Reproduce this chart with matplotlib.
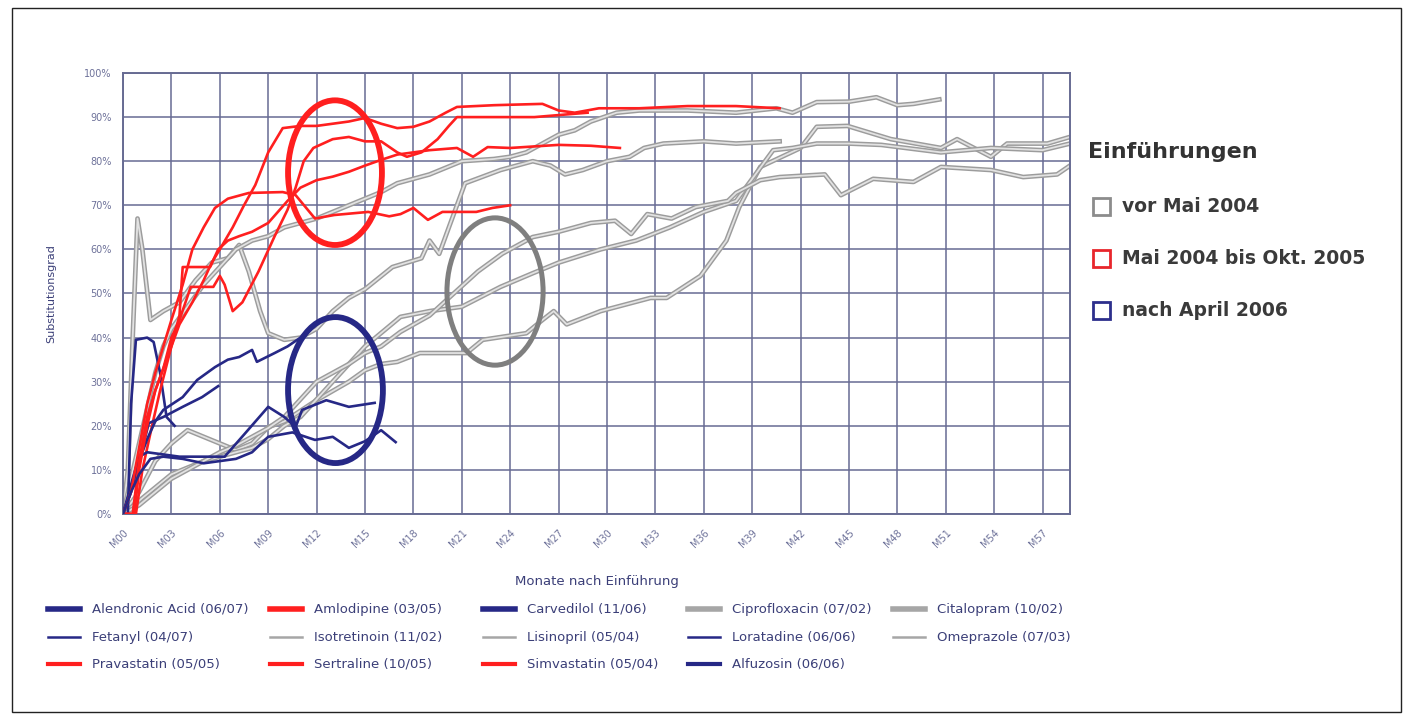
import matplotlib
matplotlib.use('Agg')
import matplotlib.pyplot as plt
import matplotlib.patheffects as pe
from matplotlib.patches import Ellipse, Rectangle
from matplotlib.lines import Line2D

plt.rcParams['font.family'] = ['DejaVu Sans']

# months after launch (x) and substitution share in percent (y)
alendronic_x = [0, 0.3, 0.5, 0.8, 1.5, 1.9, 2.3, 2.7, 3.2]
alendronic_y = [0, 0, 25, 39.5, 40, 39, 32, 22, 20]

amlodipine_x = [0, 0.8, 1.2, 1.8, 2.3, 3, 3.5, 3.7, 5.4, 5.9, 6.5, 7.2, 8, 9, 10.2, 11, 12, 13, 14, 15,
                16, 17, 18, 19, 20.7, 21.7, 22.6, 24, 27, 29, 30.8]
amlodipine_y = [0, 0, 10, 20, 28, 38, 45, 56, 56, 60, 62, 63, 64, 66, 71, 74, 75.7, 76.5, 77.6, 79,
                80.3, 81.5, 82, 82.5, 83, 81, 83.2, 83, 83.7, 83.5, 83]

carvedilol_x = [0, 0.5, 1, 1.5, 2, 2.5, 3.7, 4.6, 5.7, 6.5, 7.2, 8, 8.3, 9.4, 10.2, 11]
carvedilol_y = [0, 5, 12, 17, 21, 23.6, 26.5, 30.4, 33.3, 35, 35.6, 37.2, 34.5, 36.5, 38, 40]

cipro_x = [0, 1, 2, 3, 4, 5, 6, 7, 8, 9, 10, 12, 14, 15, 16, 17, 18.4, 21.3, 22.3, 25, 26, 26.7, 27.5,
           29.6, 32.7, 33.7, 35.8, 37.4, 38.2, 39.5, 42, 43, 44.9, 47.6, 50.7, 51.7, 53.8, 54.8, 57.3, 58.7]
cipro_y = [0, 5, 12, 16, 19, 17.5, 16, 14.5, 16, 19.7, 21, 25.8, 30, 32.6, 34, 34.5, 36.5, 36.5, 39.5, 41,
           44, 46, 43, 46, 49, 49, 54, 62, 69.6, 78.7, 83, 87.8, 88, 85, 83, 85, 81, 84, 84, 85.5]

citalopram_x = [0, 1, 2, 3, 4, 5, 6, 7, 8, 9, 10, 11, 12, 13, 14, 15, 17.2, 19, 21, 23.4, 25.4, 27,
                29.6, 31.8, 33.9, 36, 38, 39, 40.3, 41.5, 43, 45, 47, 50.7, 53.8, 57, 58.7]
citalopram_y = [0, 3, 6, 9, 10.5, 12, 13, 14, 15, 17, 20, 22, 26, 30, 34, 38, 44.7, 46, 47, 51.5, 54.6, 57,
                60, 62, 65, 68.5, 71, 76, 82.5, 83, 84, 84, 83.7, 82, 83, 82.5, 84]

fetanyl_x = [0, 0.5, 1, 1.6, 2.5, 3.7, 4.9, 5.9]
fetanyl_y = [0, 6, 12, 20.6, 22, 24.3, 26.5, 29]

isotretinoin_x = [0, 1, 2, 3, 4, 5, 6, 7, 8, 9, 10, 11, 12, 13, 14, 15, 16, 17.2, 19, 20.5, 22, 23.5,
                  25.4, 27, 29, 30.5, 31.5, 32.5, 34, 35.5, 37.5, 38, 39.5, 40.7, 43.5, 44.5, 46.5, 49,
                  50.7, 53.8, 55.8, 57.9, 58.7]
isotretinoin_y = [0, 2, 5, 8, 10, 12, 14, 15.5, 17.5, 19.5, 22, 26, 30, 32, 34, 36.5, 38, 41.3, 45, 50,
                  55, 59, 62.8, 64, 66, 66.5, 63.5, 68, 67, 69.6, 71, 72.8, 75.7, 76.4, 77, 72.3, 76,
                  75.3, 78.7, 78, 76.4, 77, 79]

lisinopril_x = [0, 0.3, 0.6, 0.9, 1.2, 1.7, 2.5, 3.5, 4.5, 5.5, 6.5, 7.2, 7.8, 8.5, 9, 10, 11, 12, 13,
                14, 15, 16.7, 18.5, 19, 19.6, 20.4, 21.2, 23.4, 25.4, 26.5, 27.4, 28.5, 30, 31.4, 32.3,
                33.5, 36, 38, 40.7]
lisinopril_y = [0, 10, 40, 67, 60, 44, 46, 48, 53, 57, 58, 61, 55, 46, 41, 39.5, 40, 42, 46, 49, 51,
                56, 58, 62, 59, 67, 75, 78, 80, 79, 77, 78, 80, 81, 83, 84, 84.5, 84, 84.5]

loratadine_x = [0, 0.6, 1, 1.5, 2.5, 3.5, 5, 6.3, 7.5, 9, 10, 10.7, 11.1, 12.6, 14, 15.6]
loratadine_y = [0, 8, 13, 14, 13.5, 13, 13, 13, 18, 24.3, 22, 19.7, 23.6, 25.8, 24.3, 25.2]

omeprazole_x = [0, 0.5, 1, 1.5, 2, 2.5, 3, 4, 5, 6, 7, 8, 9, 10, 12, 14, 16, 17, 19, 21, 23, 24, 25, 26,
                27, 28, 29, 30.6, 32, 35, 38, 40.5, 41.5, 43, 45, 46.7, 48, 49, 50.6]
omeprazole_y = [0, 8, 16, 24, 32, 38, 42, 47, 52, 56, 60, 62, 63, 65, 67, 70, 73, 75, 77, 80, 80.5, 81,
                82, 84, 86, 87, 89, 91, 91.5, 91.5, 91, 92, 91, 93.4, 93.5, 94.5, 92.7, 93, 94]

pravastatin_x = [0, 0.7, 1, 1.5, 2, 2.5, 3, 3.5, 4.2, 5.6, 6, 6.3, 6.8, 7.4, 8.4, 9.4, 10.2, 10.7, 11.2,
                 11.8, 13, 14, 15, 16, 17, 17.6, 18.5, 19.5, 20.2, 20.7, 23, 25.5, 28.8]
pravastatin_y = [0, 0, 10, 20, 28, 33, 40, 44, 51.5, 51.5, 54, 52, 46, 48, 55, 63, 69, 74, 80,
                 83, 85, 85.5, 84.5, 84.5, 82, 81, 82, 85, 88, 90, 90, 90, 91]

sertraline_x = [0, 0.5, 1, 1.5, 2, 2.5, 3, 3.7, 4.3, 5, 5.7, 6.5, 7.8, 9.9, 10.7, 11.9, 13.1, 15.2,
                16.5, 17.2, 18, 18.9, 19.8, 21.9, 22.9, 24]
sertraline_y = [0, 5, 15, 25, 32, 38, 44, 52, 60, 65, 69.4, 71.5, 72.8, 73, 72.3, 67, 67.8, 68.5,
                67.5, 68, 69.4, 66.7, 68.5, 68.5, 69.4, 70]

simvastatin_x = [0, 0.6, 1, 1.5, 2, 2.5, 3, 3.5, 4.3, 5, 5.5, 6, 6.8, 7.5, 8.2, 9, 9.9, 11, 12, 14, 15,
                 16, 17, 18, 19, 20, 20.7, 23, 26, 27, 28, 29.5, 32, 35, 38, 40.7]
simvastatin_y = [0, 0, 12, 22, 28, 33, 38, 43, 48, 53, 57, 60, 65, 70, 74.6, 82, 87.5, 88, 88, 89, 89.8,
                 88.5, 87.5, 87.8, 89, 91, 92.3, 92.7, 93, 91.5, 91, 92, 92, 92.5, 92.5, 92]

alfuzosin_x = [0, 0.5, 1, 1.7, 2.5, 3.7, 5, 6, 7, 8, 9, 10.5, 11.9, 13, 14, 15, 16, 16.9]
alfuzosin_y = [0, 5, 9, 12.5, 13, 12.5, 11.5, 12, 12.5, 14, 17.5, 18.5, 16.8, 17.5, 15, 16.5, 19, 16.3]

month_ticks = list(range(0, 58, 3))
month_labels = ['M%02d' % m for m in month_ticks]
pct_ticks = list(range(0, 101, 10))
pct_labels = ['%d%%' % p for p in pct_ticks]

group_labels = ['vor Mai 2004', 'Mai 2004 bis Okt. 2005', 'nach April 2006']

RED = '#ff1f1f'
BLUE = '#262886'
GRAY = '#a6a6a6'
GRID = '#676b93'
NAVY = '#3b3f78'

# legend order (row by row) with colour and legend line width
series = [
    ('Alendronic Acid (06/07)', alendronic_x, alendronic_y, BLUE, 4.0),
    ('Amlodipine (03/05)', amlodipine_x, amlodipine_y, RED, 4.0),
    ('Carvedilol (11/06)', carvedilol_x, carvedilol_y, BLUE, 4.0),
    ('Ciprofloxacin (07/02)', cipro_x, cipro_y, GRAY, 4.0),
    ('Citalopram (10/02)', citalopram_x, citalopram_y, GRAY, 4.0),
    ('Fetanyl (04/07)', fetanyl_x, fetanyl_y, BLUE, 1.8),
    ('Isotretinoin (11/02)', isotretinoin_x, isotretinoin_y, GRAY, 1.8),
    ('Lisinopril (05/04)', lisinopril_x, lisinopril_y, GRAY, 1.8),
    ('Loratadine (06/06)', loratadine_x, loratadine_y, BLUE, 1.8),
    ('Omeprazole (07/03)', omeprazole_x, omeprazole_y, GRAY, 1.8),
    ('Pravastatin (05/05)', pravastatin_x, pravastatin_y, RED, 3.0),
    ('Sertraline (10/05)', sertraline_x, sertraline_y, RED, 3.0),
    ('Simvastatin (05/04)', simvastatin_x, simvastatin_y, RED, 3.0),
    ('Alfuzosin (06/06)', alfuzosin_x, alfuzosin_y, BLUE, 3.0),
]

fig = plt.figure(figsize=(14.12, 7.19), dpi=100)
ax = fig.add_axes([123 / 1412, 1 - 514 / 719, (1070 - 123) / 1412, (514 - 73) / 719])

gray_fx = [pe.Stroke(linewidth=3.4, foreground='#9c9c9c'), pe.Normal()]
for name, xs, ys, col, lw in series:
    if col == GRAY:
        ax.plot(xs, ys, color='#e2e2e2', lw=1.3, path_effects=gray_fx, zorder=2)
for name, xs, ys, col, lw in series:
    if col != GRAY:
        ax.plot(xs, ys, color=col, lw=1.9, zorder=3)

# circled groups
ax.add_patch(Ellipse((13.14, 77.4), 5.82, 32.8, fill=False, ec=RED, lw=4.2, zorder=4))
ax.add_patch(Ellipse((13.17, 28.1), 5.88, 33.1, fill=False, ec=BLUE, lw=4.2, zorder=4))
ax.add_patch(Ellipse((23.06, 50.45), 5.96, 33.4, fill=False, ec='#7f7f7f', lw=3.6, zorder=4))

ax.set_xlim(0, 58.7)
ax.set_ylim(0, 100)
ax.set_xticks(month_ticks)
ax.set_xticklabels(month_labels, rotation=45, ha='right', rotation_mode='anchor',
                   fontsize=7, color='#6d7199')
ax.set_yticks(pct_ticks)
ax.set_yticklabels(pct_labels, fontsize=7, color='#6d7199')
ax.tick_params(axis='x', length=0, pad=10)
ax.tick_params(axis='y', length=0, pad=8)
ax.grid(True, color=GRID, lw=1.1)
ax.set_axisbelow(True)
for s in ax.spines.values():
    s.set_color(GRID)
    s.set_linewidth(1.4)
ax.set_ylabel('Substitutionsgrad', fontsize=8, color=NAVY, labelpad=20)
ax.set_xlabel('Monate nach Einführung', fontsize=9.5, color=NAVY, labelpad=18)

# right-hand legend of launch periods
fig.text(1088 / 1412, 1 - 152 / 719, 'Einführungen', fontsize=16, fontweight='bold',
         color='#333333', va='center')
for i, (lab, col) in enumerate(zip(group_labels, ['#8c8c8c', '#e8262c', '#2d2f8c'])):
    yc = 206 + i * 52
    fig.add_artist(Rectangle((1093 / 1412, 1 - (yc + 9) / 719), 17 / 1412, 17 / 719,
                             transform=fig.transFigure, fill=False, ec=col, lw=2))
    fig.text(1122 / 1412, 1 - yc / 719, lab, fontsize=13.5, fontweight='bold', color='#3a3a3a',
             va='center')

# series legend below the chart, 5 columns x 3 rows
col_x = [48, 270, 483, 688, 893]
row_y = [609, 637, 664]
for k, (name, xs, ys, col, lw) in enumerate(series):
    x0 = col_x[k % 5]
    y0 = row_y[k // 5]
    fig.add_artist(Line2D([x0 / 1412, (x0 + 32) / 1412], [1 - y0 / 719, 1 - y0 / 719],
                          transform=fig.transFigure, color=col, lw=lw))
    fig.text((x0 + 44) / 1412, 1 - y0 / 719, name, fontsize=9.5, color=NAVY, va='center')

# frame round the whole picture
fig.add_artist(Rectangle((12 / 1412, 1 - 712 / 719), 1389 / 1412, 704 / 719,
                         transform=fig.transFigure, fill=False, ec='#222222', lw=1))

fig.savefig('out.png', dpi=100)
